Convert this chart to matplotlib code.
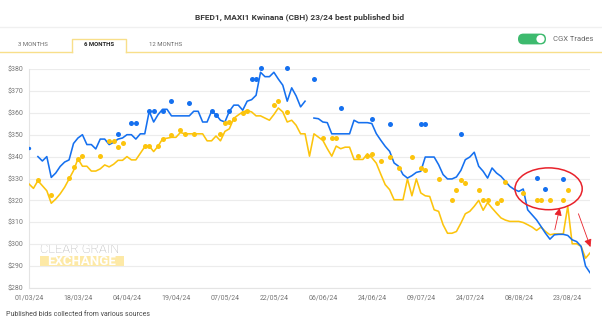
import numpy as np
import matplotlib
matplotlib.use("Agg")
import matplotlib.pyplot as plt
from matplotlib.patches import Ellipse, FancyBboxPatch, Circle, Rectangle

plt.rcParams['font.family'] = ['Roboto', 'DejaVu Sans']

# ---------------- data ----------------
tick_labels = ["01/03/24", "18/03/24", "04/04/24", "19/04/24", "07/05/24", "22/05/24",
               "06/06/24", "24/06/24", "09/07/24", "24/07/24", "08/08/24", "23/08/24"]
label_step = 11  # one label every 11 trading days

nan = np.nan
bfed1_bid = [
    344, nan, 340, 338, 340, 330.5, 332.5, 335.5, 337.5, 338.5,
    346, 348.5, 350, 345.5, 345.5, 343.5, 348, 348, 345.5, 346.5,
    348, 348.5, 350, 350, 348, 350.4, 350.4, 360.7, 355.8, 359.2,
    361.6, 361.6, 358.6, 358.6, 358.6, 358.6, 358.6, 360.7, 360.7, 355.8,
    355.8, 360.7, 359.2, 356.6, 355.8, 360.7, 363.5, 363.5, 361.2, 365.3,
    366, 368, 378.5, 376.5, 376.5, 378.5, 375.4, 372.6, 365.3, 371.4,
    367.7, 362.7, 365.3, nan, 357.6, 357.3, 355.8, 355.5, 350.4, 350.4,
    350.4, 350.4, 350.4, 356.6, 355.5, 355.5, 355.5, 355.1, 350.5, 347.5,
    344.7, 342.4, 337.1, 335.6, 331.8, 330.2, 331.3, 332.8, 333.3, 339.8,
    339.8, 339.8, 336.3, 331.8, 329.8, 329.8, 330.7, 333.7, 338.6, 339.8,
    342, 335.6, 333.3, 330.2, 334.8, 332.5, 331, 328.7, 326.4, 325,
    324.1, 325.2, 315.7, 313.4, 311.1, 308.1, 305, 302.3, 304.3, 304.5,
    304.5, 304, 302, 301.2, 299, 290, 287,
]
maxi1_bid = [
    327.5, 325.5, 329, 326.7, 324.4, 318.7, 320.6, 323, 326, 329.8,
    333.6, 339, 335.6, 335.6, 333.4, 333.4, 334.4, 336.2, 335.3, 336.5,
    338.3, 338.3, 340, 338.5, 338.5, 341.5, 344.5, 344.8, 342.3, 344.8,
    348.1, 348.4, 348.8, 348.8, 351, 350.4, 350.4, 350.4, 350.4, 350.4,
    347.2, 347.2, 349.4, 347.2, 351.5, 352.7, 357.5, 359, 360.4, 361,
    360.4, 358.6, 358.6, 357.6, 356.6, 359.2, 362.2, 360.4, 355.8, 356.6,
    354.3, 350.4, 350.4, 340.2, 350.4, 348.9, 347.4, 343.6, 340.2, 344.8,
    343.6, 344.3, 344.3, 338.7, 338.7, 338.7, 341.3, 339.5, 337, 332,
    327.2, 324.9, 320.3, 320.3, 320.3, 329.8, 322.1, 329.8, 323.4, 322.1,
    321.8, 315.7, 315, 308.9, 305, 305, 305.8, 309.6, 313.9, 315,
    317.3, 320, 315.5, 319, 316.5, 314.2, 312, 311, 310.4, 310.4,
    310.4, 309.9, 308.9, 307.8, 306.3, 307.8, 305.8, 304.3, 304.7, 304.7,
    304.7, 317.3, 300.2, 300.2, 299, 293.6, 296,
]

# CGX trades (day index, price)
bfed1_trade_day = [20, 23, 24, 27, 28, 30, 32, 36, 41, 42, 45, 50, 51, 52, 58, 64, 70, 77,
                   81, 88, 89, 97, 114, 116, 120]
bfed1_trade_px = [350.3, 355.3, 355.3, 360.7, 360.7, 360.7, 365.2, 364.5, 360.7, 359.2,
                  360.7, 375.4, 375.4, 380.5, 380.5, 375.4, 362.2, 357.3, 355.1, 355.1,
                  355.1, 350.1, 330.2, 325, 329.8]
maxi1_trade_day = [2, 5, 9, 10, 11, 12, 16, 18, 19, 20, 21, 26, 27, 29, 30, 32, 34, 35, 37,
                   43, 44, 45, 46, 48, 49, 55, 56, 58, 66, 68, 69, 74, 76, 77, 79, 81, 83,
                   86, 88, 89, 92, 95, 96, 97, 98, 101, 102, 103, 105, 106, 107, 111, 114,
                   115, 117, 120, 121]
maxi1_trade_px = [329.5, 322.4, 330.3, 335.3, 338.8, 340.4, 340.4, 347.2, 347.2, 344.6,
                  346.2, 345, 345, 345, 348.1, 350, 352.2, 350.2, 350.2, 350.3, 355.5,
                  355.8, 357.3, 360.1, 360.7, 363.5, 365.3, 360.4, 348.5, 348.5, 348.5,
                  340.2, 340.2, 341, 337.9, 339.8, 334.8, 339.8, 334.8, 334, 329.8, 320,
                  324.9, 329.2, 328, 324.9, 320, 320, 318.9, 320, 328.3, 323.4, 320, 320,
                  320, 320, 324.9]

BLUE = '#1570ef'
YELLOW = '#fcc40d'
RED = '#e8222b'

W, H = 602, 325
fig = plt.figure(figsize=(W / 100, H / 100), dpi=100)
fig.patch.set_facecolor('white')

# ---------- background / header layer (pixel coordinates) ----------
bg = fig.add_axes([0, 0, 1, 1], zorder=0)
bg.set_xlim(0, W)
bg.set_ylim(H, 0)
bg.axis('off')

bg.text(300, 17, "BFED1, MAXI1 Kwinana (CBH) 23/24 best published bid", ha='center', va='center',
        fontsize=6, fontweight='bold', color='#3a3a3a')
bg.plot([0, W], [27, 27], color='#f0f0f0', lw=1)

tab_col = '#f8df8a'
bg.plot([0, 72], [51.7, 51.7], color=tab_col, lw=1)
bg.plot([126, W], [51.7, 51.7], color=tab_col, lw=1)
bg.plot([72, 72, 126, 126], [51.7, 38.5, 38.5, 51.7], color=tab_col, lw=1)
bg.text(33, 44.8, "3 MONTHS", ha='center', va='center', fontsize=4.3, color='#6a6a6a')
bg.text(99, 44.8, "6 MONTHS", ha='center', va='center', fontsize=4.3, color='#222222',
        fontweight='bold')
bg.text(166, 44.8, "12 MONTHS", ha='center', va='center', fontsize=4.3, color='#6a6a6a')

bg.add_patch(FancyBboxPatch((518, 33.6), 28, 10.8, boxstyle="round,pad=0,rounding_size=5.4",
                            facecolor='#3dba6e', edgecolor='none'))
bg.add_patch(Circle((540.5, 39), 4.1, facecolor='white', edgecolor='none'))
bg.text(553, 38.8, "CGX Trades", ha='left', va='center', fontsize=5.5, color='#6a6a6a')

bg.text(6, 315, "Published bids collected from various sources", ha='left', va='center',
        fontsize=5, color='#4a4a4a')

# watermark
bg.text(40, 249.5, "CLEAR GRAIN", ha='left', va='center', fontsize=9.3, color='#b3b3b3',
        fontweight='light')
bg.add_patch(Rectangle((40, 256), 84, 11, facecolor='#fde9a6', edgecolor='none'))
bg.text(82, 261.8, "EXCHANGE", ha='center', va='center', fontsize=9.5, color='white',
        fontweight='bold')

# ---------- chart ----------
left, right, top, bottom = 29, 590, 69, 288
ax = fig.add_axes([left / W, 1 - bottom / H, (right - left) / W, (bottom - top) / H], zorder=2)
ax.set_facecolor('none')

n = len(bfed1_bid)
x = np.arange(n)
b = np.array(bfed1_bid, dtype=float)
m = np.array(maxi1_bid, dtype=float)

ax.plot(x, m, color=YELLOW, lw=1.15, zorder=3, solid_joinstyle='round')
ax.plot(x, b, color=BLUE, lw=1.15, zorder=4, solid_joinstyle='round')
# isolated bid points (no neighbours) shown as tiny dots
iso = [i for i in range(n) if not np.isnan(b[i])
       and (i == 0 or np.isnan(b[i - 1])) and (i == n - 1 or np.isnan(b[i + 1]))]
ax.plot(x[iso], b[iso], 'o', color=BLUE, ms=1.4, zorder=4)

ax.scatter(bfed1_trade_day, bfed1_trade_px, s=13, color=BLUE, zorder=5, linewidths=0,
           clip_on=False)
ax.scatter(maxi1_trade_day, maxi1_trade_px, s=13, color=YELLOW, zorder=6, linewidths=0,
           clip_on=False)

ax.set_xlim(0, n - 1)
ax.set_ylim(280, 380)
ax.set_yticks(np.arange(280, 381, 10))
ax.set_yticklabels([f"${v}" for v in range(280, 381, 10)])
ax.set_xticks(np.arange(0, label_step * len(tick_labels), label_step))
ax.set_xticklabels(tick_labels)
ax.tick_params(axis='both', length=0, labelsize=5, labelcolor='#777777')
ax.tick_params(axis='y', pad=4)
ax.tick_params(axis='x', pad=5)
ax.grid(axis='y', color='#ececec', lw=0.8, zorder=0)
ax.set_axisbelow(True)
for s in ['top', 'right']:
    ax.spines[s].set_visible(False)
ax.spines['left'].set_color('#e4e4e4')
ax.spines['left'].set_linewidth(0.8)
ax.spines['bottom'].set_color('#e4e4e4')
ax.spines['bottom'].set_linewidth(0.8)

# annotations (red ellipse and arrows)
ax.add_patch(Ellipse((116.7, 325.3), 15.1, 19.1, fill=False, edgecolor=RED, lw=1.1,
                     zorder=7, clip_on=False))
arrow_kw = dict(arrowstyle='-|>,head_length=0.45,head_width=0.22', color=RED, lw=0.6,
                shrinkA=0, shrinkB=0)
ax.annotate('', xy=(119.2, 316.6), xytext=(118.1, 306.6), arrowprops=arrow_kw,
            annotation_clip=False, zorder=8)
ax.annotate('', xy=(126.1, 298.7), xytext=(123.4, 313.9), arrowprops=arrow_kw,
            annotation_clip=False, zorder=8)

fig.savefig('out.png', dpi=100, facecolor='white')
